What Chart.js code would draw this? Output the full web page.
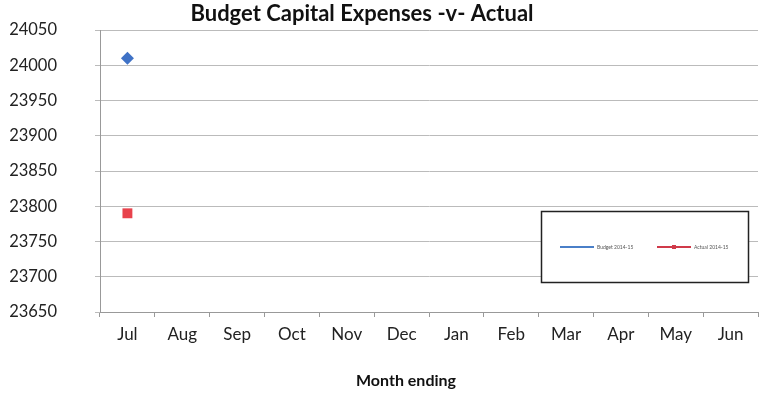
<!DOCTYPE html>
<html>
<head>
<meta charset="utf-8">
<script src="https://cdn.jsdelivr.net/npm/chart.js@4/dist/chart.umd.min.js"></script>
<style>
  html, body { margin: 0; padding: 0; background: #fff; }
  #wrap { width: 765px; height: 395px; }
</style>
</head>
<body>
<div id="wrap"><canvas id="capex"></canvas></div>
<script>
//Months of the financial year
const months = ["Jul", "Aug", "Sep", "Oct", "Nov", "Dec", "Jan", "Feb", "Mar", "Apr", "May", "Jun"];
//Only July has been reported so far
const budget = [24010, null, null, null, null, null, null, null, null, null, null, null];
const actual = [23790, null, null, null, null, null, null, null, null, null, null, null];
//Y axis range
const yMin = 23650;
const yMax = 24050;
const yStep = 50;

const FONT = "Lato, 'Open Sans', sans-serif";

//Title, x axis caption and boxed legend drawn by hand
const decorations = {
  id: "decorations",
  afterDraw(chart) {
    const ctx = chart.ctx;
    ctx.save();
    ctx.fillStyle = "#111";
    ctx.textAlign = "center";
    ctx.textBaseline = "middle";
    ctx.font = "bold 22px " + FONT;
    ctx.fillText("Budget Capital Expenses -v- Actual", 362, 14);
    ctx.font = "bold 16px " + FONT;
    ctx.fillText("Month ending", 406, 381);

    //Legend box
    ctx.fillStyle = "#fff";
    ctx.fillRect(541, 211, 208, 72);
    ctx.strokeStyle = "#222";
    ctx.lineWidth = 1.5;
    ctx.strokeRect(541.5, 211.5, 207, 71);
    const items = chart.data.datasets;
    const starts = [560, 657];
    items.forEach((ds, i) => {
      const x = starts[i];
      ctx.strokeStyle = ds.legendColor;
      ctx.lineWidth = 2;
      ctx.beginPath();
      ctx.moveTo(x, 247);
      ctx.lineTo(x + 34, 247);
      ctx.stroke();
      if (i == 1) {
        ctx.fillStyle = ds.legendColor;
        ctx.fillRect(x + 15, 245, 4, 4);
      }
      ctx.fillStyle = "#555";
      ctx.textAlign = "left";
      ctx.font = "5px " + FONT;
      ctx.fillText(ds.label, x + 37, 247);
    });
    ctx.restore();
  },
};

const chart = new Chart(document.getElementById("capex"), {
  type: "line",
  data: {
    labels: months,
    datasets: [
      {
        label: "Budget 2014-15",
        data: budget,
        borderColor: "#4a7fc8",
        backgroundColor: "#3f72c6",
        legendColor: "#4a7fc8",
        pointStyle: "rectRot",
        pointRadius: 6.5,
        pointBorderWidth: 0,
        pointBackgroundColor: "#3f72c6",
      },
      {
        label: "Actual 2014-15",
        data: actual,
        borderColor: "#d03a4a",
        backgroundColor: "#e8424c",
        legendColor: "#d03a4a",
        pointStyle: "rect",
        pointRadius: 7,
        pointBorderWidth: 0,
        pointBackgroundColor: "#e8424c",
      },
    ],
  },
  options: {
    responsive: true,
    maintainAspectRatio: false,
    animation: false,
    layout: { padding: { top: 30, right: 7, left: 0, bottom: 0 } },
    plugins: {
      legend: { display: false },
      title: { display: false },
      tooltip: { enabled: false },
    },
    scales: {
      x: {
        offset: true,
        grid: {
          offset: true,
          drawOnChartArea: false,
          drawTicks: true,
          tickLength: 5,
          color: "#999",
        },
        border: { color: "#999" },
        ticks: {
          color: "#222",
          padding: 7,
          font: { family: FONT, size: 17 },
        },
        afterFit(scale) {
          scale.height = 83;
        },
      },
      y: {
        min: yMin,
        max: yMax,
        grid: { color: "#bbb", tickLength: 5 },
        border: { color: "#999" },
        ticks: {
          stepSize: yStep,
          color: "#222",
          padding: 38,
          font: { family: FONT, size: 16.5 },
          callback: (v) => String(v),
        },
        afterFit(scale) {
          //big tick padding would otherwise push the plot down
          scale.width = 100;
          scale.paddingTop = 0;
          scale.paddingBottom = 0;
        },
      },
    },
  },
  plugins: [decorations],
});
</script>
</body>
</html>
